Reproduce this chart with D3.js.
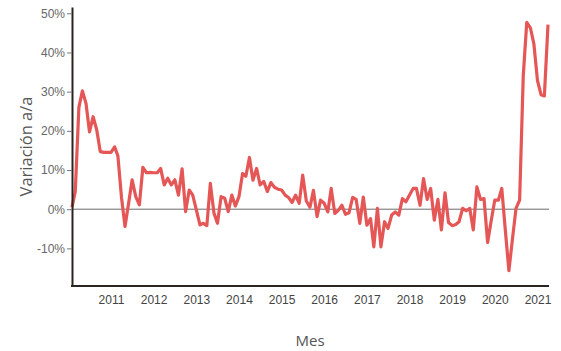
<!DOCTYPE html>
<html>
<head>
<meta charset="utf-8">
<script src="https://cdn.jsdelivr.net/npm/d3@7/dist/d3.min.js"></script>
<style>
  html, body { margin: 0; padding: 0; background: #fff; }
  svg { display: block; font-family: "Open Sans", "Lato", sans-serif; }
</style>
</head>
<body>
<svg id="chart" width="561" height="351"></svg>
<script>
// Monthly year-over-year variation (%), Feb 2010 – Apr 2021
const firstMonth = "2010-02";
const variation = [
  0.5, 4.5, 26, 30.2, 27, 19.7, 23.6, 20.2, 14.7, 14.5, 14.5, 14.5,
  15.9, 13.6, 3, -4.4, 1.5, 7.5, 3.2, 1.1, 10.7, 9.3, 9.4, 9.3,
  9.3, 10.4, 6.2, 7.9, 6.2, 7.5, 3.6, 10.3, -0.6, 4.9, 3.6, -0.2,
  -4.0, -3.6, -4.2, 6.6, -1.0, -3.6, 3.2, 2.8, -0.6, 3.6, 0.8, 3.2,
  9.1, 8.4, 13.2, 7.4, 10.4, 6.2, 7.1, 4.5, 6.8, 5.6, 5.1, 4.9,
  3.6, 3.0, 1.7, 3.6, 1.5, 8.7, 2.1, 0.5, 4.8, -1.9, 2.3, 1.5,
  -0.7, 5.3, -1.1, -0.3, 1.0, -1.3, -0.9, 3.0, 2.5, -3.6, 3.1, -4.1,
  -2.4, -9.6, 0.2, -9.6, -3.2, -4.9, -1.5, -0.7, -1.5, 2.7, 1.9, 3.6,
  5.3, 5.3, 1.0, 7.8, 2.5, 5.3, -2.8, 2.5, -5.3, 4.2, -3.4, -4.2,
  -3.9, -3.2, 0.2, -0.4, 0.2, -5.3, 5.7, 2.5, 2.7, -8.5, -3.0, 2.3,
  2.3, 5.3, -5.5, -15.7, -7.5, 0.2, 2.3, 34, 47.7, 46.3, 42.2, 32.8,
  29.2, 28.9, 47.1
];
const yearTicks = [2011, 2012, 2013, 2014, 2015, 2016, 2017, 2018, 2019, 2020, 2021];
const yTicks = [-10, 0, 10, 20, 30, 40, 50];
const yDomain = [-19.6, 51.6];

const start = d3.timeParse("%Y-%m")(firstMonth);
const data = variation.map((v, i) => ({ date: d3.timeMonth.offset(start, i), value: v }));

const svg = d3.select("#chart");
const plot = { left: 72, right: 548, top: 7, bottom: 286 };

const x = d3.scaleTime()
  .domain(d3.extent(data, d => d.date))
  .range([plot.left, plot.right]);
const y = d3.scaleLinear()
  .domain(yDomain)
  .range([plot.bottom, plot.top]);

// zero reference line
svg.append("line")
  .attr("x1", plot.left).attr("x2", plot.right + 1)
  .attr("y1", y(0)).attr("y2", y(0))
  .attr("stroke", "#6b6b6b").attr("stroke-width", 1);

// series line
svg.append("path")
  .datum(data)
  .attr("fill", "none")
  .attr("stroke", "#e45756")
  .attr("stroke-width", 3.2)
  .attr("stroke-linejoin", "round")
  .attr("d", d3.line().x(d => x(d.date)).y(d => y(d.value)));

// y axis
const yAxis = svg.append("g")
  .attr("transform", `translate(${plot.left},0)`)
  .call(d3.axisLeft(y).tickValues(yTicks).tickSize(5).tickSizeOuter(0).tickPadding(2)
    .tickFormat(d => d + "%"));
yAxis.select(".domain").attr("stroke", "#2b2522").attr("stroke-width", 2);
yAxis.selectAll(".tick line").attr("stroke", "#777");
yAxis.selectAll(".tick text").attr("fill", "#666").style("font-size", "12px");

// x axis
const xAxis = svg.append("g")
  .attr("transform", `translate(0,${plot.bottom})`)
  .call(d3.axisBottom(x)
    .tickValues(yearTicks.map(yr => new Date(yr, 0, 1)))
    .tickSize(0).tickSizeOuter(0).tickPadding(9)
    .tickFormat(d3.timeFormat("%Y")));
xAxis.select(".domain")
  .attr("d", `M${plot.left - 1},0H${plot.right + 1}`)
  .attr("stroke", "#2b2522").attr("stroke-width", 2);
xAxis.selectAll(".tick text").attr("fill", "#444").style("font-size", "12px");

// axis titles
svg.append("text")
  .attr("x", (plot.left + plot.right) / 2)
  .attr("y", 346)
  .attr("text-anchor", "middle")
  .attr("fill", "#555")
  .style("font-size", "15px")
  .text("Mes");

svg.append("text")
  .attr("transform", `translate(32,${(plot.top + plot.bottom) / 2}) rotate(-90)`)
  .attr("text-anchor", "middle")
  .attr("fill", "#555")
  .style("font-size", "16.5px")
  .text("Variación a/a");
</script>
</body>
</html>
